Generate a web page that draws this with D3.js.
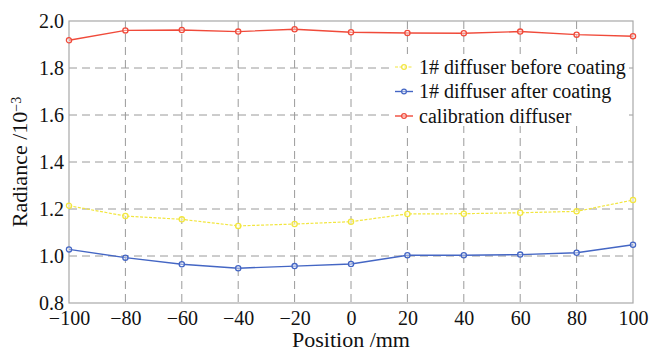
<!DOCTYPE html>
<html>
<head>
<meta charset="utf-8">
<script src="https://cdn.jsdelivr.net/npm/d3@7"></script>
<style>
  body { margin: 0; background: #fff; }
</style>
</head>
<body>
<div id="chart"></div>
<script>
const positions = [-100, -80, -60, -40, -20, 0, 20, 40, 60, 80, 100];
const beforeCoating = [1.214, 1.170, 1.156, 1.128, 1.136, 1.146, 1.179, 1.180, 1.184, 1.190, 1.238];
const afterCoating = [1.028, 0.993, 0.965, 0.948, 0.957, 0.966, 1.003, 1.003, 1.006, 1.014, 1.048];
const calibration = [1.918, 1.960, 1.962, 1.955, 1.965, 1.952, 1.949, 1.948, 1.955, 1.942, 1.935];
const yTicks = [0.8, 1.0, 1.2, 1.4, 1.6, 1.8, 2.0];
const seriesNames = ["1# diffuser before coating", "1# diffuser after coating", "calibration diffuser"];

const FONT = "Liberation Serif";

const margin = {top: 21, right: 20, bottom: 48, left: 69};
const width = 653 - margin.left - margin.right;
const height = 351 - margin.top - margin.bottom;

const svg = d3.select("#chart")
    .append("svg")
    .attr("width", 653)
    .attr("height", 351)
    .attr("font-family", FONT)
    .append("g")
    .attr("transform", `translate(${margin.left}, ${margin.top})`);

const x = d3.scaleLinear().domain([-100, 100]).range([0, width]);
const y = d3.scaleLinear().domain([0.8, 2.0]).range([height, 0]);

// grid
svg.append("g")
    .selectAll("line")
    .data(positions.slice(1, -1))
    .enter().append("line")
    .attr("x1", d => x(d)).attr("x2", d => x(d))
    .attr("y1", 0).attr("y2", height)
    .attr("stroke", "#9a9a9a")
    .attr("stroke-dasharray", "8,5");

svg.append("g")
    .selectAll("line")
    .data(yTicks.slice(1, -1))
    .enter().append("line")
    .attr("x1", 0).attr("x2", width)
    .attr("y1", d => y(d)).attr("y2", d => y(d))
    .attr("stroke", "#9a9a9a")
    .attr("stroke-dasharray", "8,5");

// frame
svg.append("rect")
    .attr("width", width)
    .attr("height", height)
    .attr("fill", "none")
    .attr("stroke", "#a8a8a8")
    .attr("stroke-width", 1.2);

// axes
const fmtX = d => d < 0 ? "\u2212" + Math.abs(d) : String(d);
const xAxis = svg.append("g")
    .attr("transform", `translate(0, ${height})`)
    .call(d3.axisBottom(x).tickValues(positions).tickFormat(fmtX).tickSize(0).tickPadding(8))
    .attr("font-family", FONT)
    .attr("font-size", 20);
xAxis.select(".domain").remove();
xAxis.selectAll("text").attr("fill", "#111");

const yAxis = svg.append("g")
    .call(d3.axisLeft(y).tickValues(yTicks).tickFormat(d3.format(".1f")).tickSize(0).tickPadding(5))
    .attr("font-family", FONT)
    .attr("font-size", 20);
yAxis.select(".domain").remove();
yAxis.selectAll("text").attr("fill", "#111");

// lines
const series = [
    {name: seriesNames[0], values: beforeCoating, color: "#f2e640", dash: "3,1.5", width: 1.2},
    {name: seriesNames[1], values: afterCoating, color: "#4466c4", dash: null, width: 1.4},
    {name: seriesNames[2], values: calibration, color: "#f04a3a", dash: null, width: 1.4}
];

const line = d3.line()
    .x((d, i) => x(positions[i]))
    .y(d => y(d));

series.forEach(s => {
    svg.append("path")
        .datum(s.values)
        .attr("fill", "none")
        .attr("stroke", s.color)
        .attr("stroke-width", s.width)
        .attr("stroke-dasharray", s.dash)
        .attr("d", line);
    svg.append("g")
        .selectAll("circle")
        .data(s.values)
        .enter().append("circle")
        .attr("cx", (d, i) => x(positions[i]))
        .attr("cy", d => y(d))
        .attr("r", 2.6)
        .attr("fill", "#fff")
        .attr("fill-opacity", 0.4)
        .attr("stroke", s.color)
        .attr("stroke-width", 1.3);
});

// legend
const legend = svg.append("g")
    .attr("transform", `translate(${393 - margin.left}, ${54 - margin.top})`);
legend.append("rect")
    .attr("width", 236)
    .attr("height", 72)
    .attr("fill", "#fff");
series.forEach((s, i) => {
    const g = legend.append("g").attr("transform", `translate(0, ${13 + i * 24.5})`);
    g.append("line")
        .attr("x1", 2).attr("x2", 20)
        .attr("stroke", s.color)
        .attr("stroke-width", s.width)
        .attr("stroke-dasharray", s.dash);
    g.append("circle")
        .attr("cx", 11).attr("r", 2.4)
        .attr("fill", "#fff").attr("fill-opacity", 0.4)
        .attr("stroke", s.color).attr("stroke-width", 1.2);
    g.append("text")
        .attr("x", 26)
        .attr("dy", "0.33em")
        .attr("font-size", 20)
        .attr("font-family", FONT)
        .attr("fill", "#111")
        .text(s.name);
});

// axis titles
svg.append("text")
    .attr("x", width / 2)
    .attr("y", height + 44)
    .attr("text-anchor", "middle")
    .attr("font-size", 22)
    .attr("font-family", FONT)
    .attr("fill", "#111")
    .text("Position /mm");

const yTitle = svg.append("text")
    .attr("transform", `translate(${-42}, ${height / 2}) rotate(-90)`)
    .attr("text-anchor", "middle")
    .attr("font-size", 22)
    .attr("font-family", FONT)
    .attr("fill", "#111");
yTitle.append("tspan").text("Radiance /10");
yTitle.append("tspan").attr("dy", "-0.45em").attr("font-size", 14).text("\u22123");
</script>
</body>
</html>
